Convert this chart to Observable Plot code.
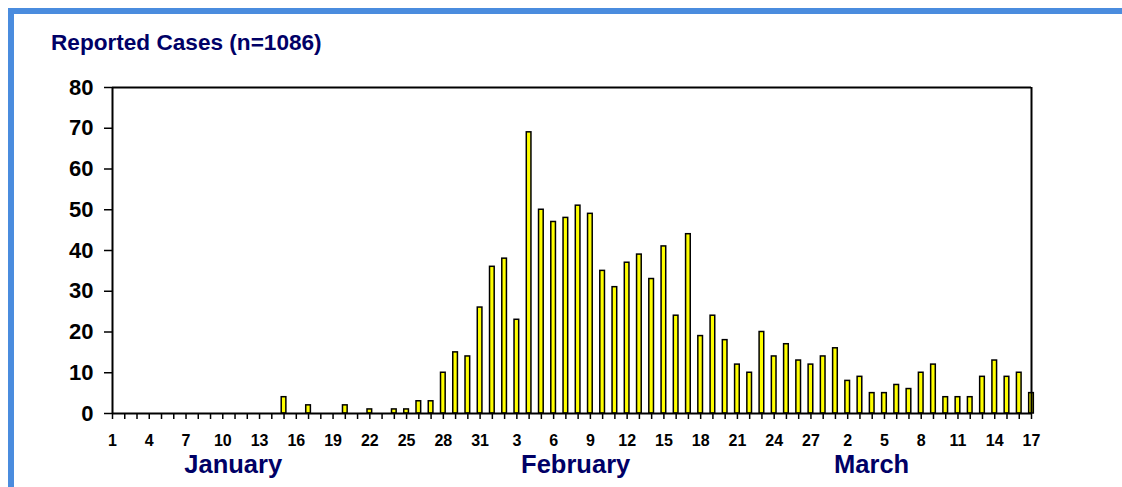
<!DOCTYPE html>
<html><head><meta charset="utf-8">
<script src="https://cdn.jsdelivr.net/npm/d3@7"></script>
<script src="https://cdn.jsdelivr.net/npm/@observablehq/plot@0.6"></script>
<style>
html,body{margin:0;padding:0;background:#fff;}
body{width:1122px;height:487px;overflow:hidden;position:relative;font-family:"Liberation Sans",Arial,sans-serif;}
#border{position:absolute;left:8px;top:8px;width:1300px;height:700px;border-left:6px solid #4A8CDE;border-top:6px solid #4A8CDE;}
#title{position:absolute;left:51px;top:32px;font-size:22.6px;font-weight:bold;color:#000066;line-height:22px;white-space:nowrap;}
#chart{position:absolute;left:0;top:60px;}
</style></head>
<body>
<div id="border"></div>
<div id="title">Reported Cases (n=1086)</div>
<div id="chart"></div>
<script>
// ---- data ----
const months = ["January", "February", "March"];
const janCases = [0,0,0,0,0,0,0,0,0,0,0,0,0,0,4,0,2,0,0,2,0,1,0,1,1,3,3,10,15,14,26];
const febCases = [36,38,23,69,50,47,48,51,49,35,31,37,39,33,41,24,44,19,24,18,12,10,20,14,17,13,12,14];
const marCases = [16,8,9,5,5,7,6,10,12,4,4,4,9,13,9,10,5];
const yTicks = [0,10,20,30,40,50,60,70,80];

// ---- build table ----
const days = [];
[janCases, febCases, marCases].forEach((arr, m) =>
  arr.forEach((v, k) => days.push({i: days.length, day: k + 1, month: months[m], cases: v})));

// month label placement (in day-index units along the x scale)
const monthLabelAt = {January: 9.85, February: 37.8, March: 61.95};
const monthRows = months.map(m => ({month: m, at: monthLabelAt[m]}));

const barHalf = 0.19;
const last = days.length - 1;
const labelled = days.filter(d => d.i % 3 === 0).map(d => d.i);

const chart = Plot.plot({
  width: 1122, height: 427,
  marginTop: 27, marginBottom: 74, marginLeft: 112, marginRight: 91,
  style: {fontFamily: "'Liberation Sans', Arial, sans-serif", fontWeight: "bold", background: "transparent", color: "#000", overflow: "visible"},
  x: {type: "linear", domain: [0, last], axis: null},
  y: {domain: [0, 80], axis: null},
  marks: [
    Plot.rectY(days.filter(d => d.cases > 0), {
      x1: d => d.i - barHalf, x2: d => d.i + barHalf, y: "cases",
      fill: "#FFFF00", stroke: "#000", strokeWidth: 1.5
    }),
    Plot.ruleY([80], {stroke: "#000", strokeWidth: 2}),
    Plot.ruleX([last], {stroke: "#000", strokeWidth: 2}),
    Plot.ruleX([0], {stroke: "#000", strokeWidth: 2}),
    Plot.ruleY([0], {stroke: "#000", strokeWidth: 2}),
    Plot.axisY({ticks: yTicks, label: null, tickSize: 8, tickPadding: 11, fontSize: 22, fontWeight: "bold", strokeWidth: 1.5, stroke: "#000", fill: "#000"}),
    // daily tick marks (no text)
    Plot.axisX({ticks: days.map(d => d.i), label: null, tickSize: 6, text: null, strokeWidth: 1.5, stroke: "#000"}),
    // labels every third day
    Plot.axisX({
      ticks: labelled, label: null, tickSize: 0, tickPadding: 21, 
      tickFormat: i => String(days[i].day),
      fontSize: 16, fontWeight: "bold", fill: "#000"
    }),
    Plot.text(monthRows, {
      x: "at", text: "month", frameAnchor: "bottom", dy: 59,
      fontSize: 25.5, fontWeight: "bold", fill: "#000066"
    })
  ]
});
document.getElementById("chart").appendChild(chart);
</script>
</body></html>
